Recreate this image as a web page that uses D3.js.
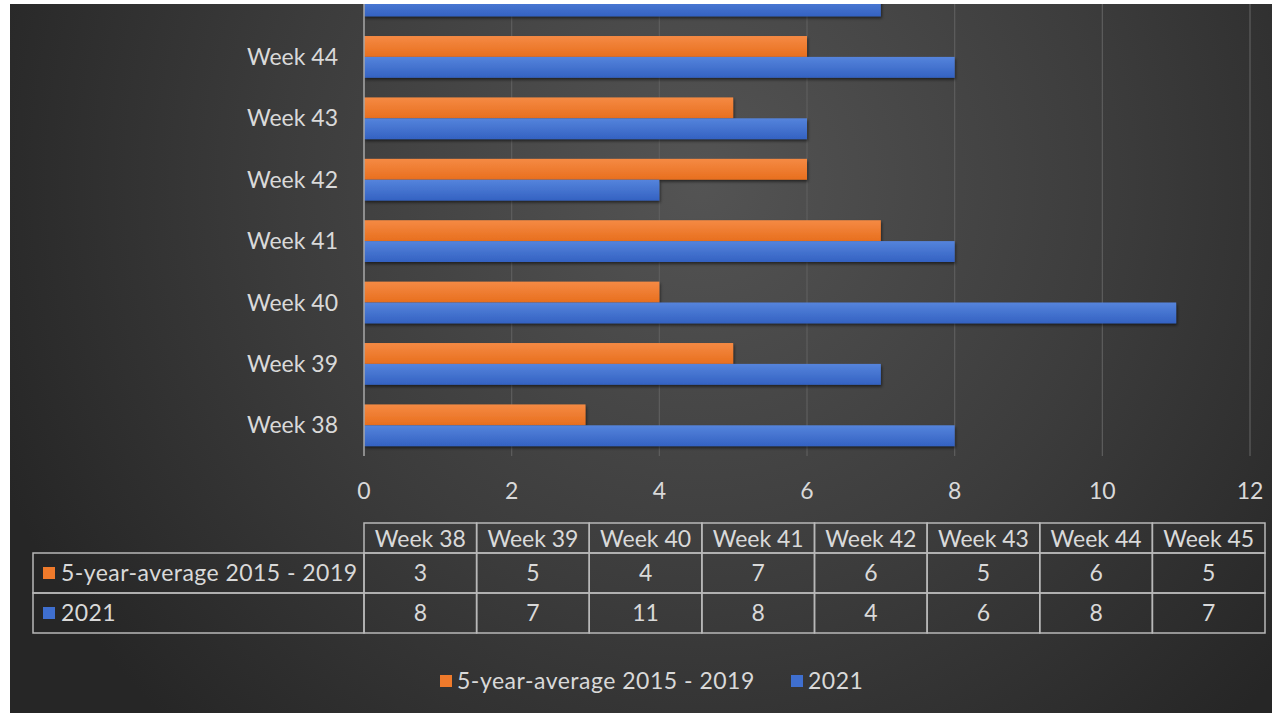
<!DOCTYPE html>
<html>
<head>
<meta charset="utf-8">
<script src="https://cdn.jsdelivr.net/npm/d3@7"></script>
<style>
  html, body { margin: 0; padding: 0; background: #fff; }
  svg { display: block; font-family: Lato, "Open Sans", sans-serif; }
</style>
</head>
<body>
<div id="chart"></div>
<script>
// ----------------------------
// DATA
// ----------------------------
const weeks = ["Week 38", "Week 39", "Week 40", "Week 41", "Week 42", "Week 43", "Week 44", "Week 45"];
const avgValues = [3, 5, 4, 7, 6, 5, 6, 5];
const values2021 = [8, 7, 11, 8, 4, 6, 8, 7];
const seriesNames = ["5-year-average 2015 - 2019", "2021"];
const xTicks = [0, 2, 4, 6, 8, 10, 12];

const seriesColors = ["#ef7a2b", "#3f6fcf"];
const textColor = "#d9d9d9";
const fontSize = "23px";

const width = 1272;
const height = 713;

const svg = d3.select("#chart")
  .append("svg")
  .attr("width", width)
  .attr("height", height);

const defs = svg.append("defs");

// background gradient
const bg = defs.append("radialGradient")
  .attr("id", "bg")
  .attr("gradientUnits", "userSpaceOnUse")
  .attr("cx", 700).attr("cy", 180).attr("r", 760);
bg.append("stop").attr("offset", "0%").attr("stop-color", "#545454");
bg.append("stop").attr("offset", "55%").attr("stop-color", "#3c3c3c");
bg.append("stop").attr("offset", "100%").attr("stop-color", "#262626");

// bar gradients
[["gOrange", "#f58a44", "#e86f1e"], ["gBlue", "#5584dc", "#3462c2"]].forEach(([id, c1, c2]) => {
  const lg = defs.append("linearGradient").attr("id", id)
    .attr("x1", 0).attr("y1", 0).attr("x2", 0).attr("y2", 1);
  lg.append("stop").attr("offset", "0%").attr("stop-color", c1);
  lg.append("stop").attr("offset", "100%").attr("stop-color", c2);
});

const shadow = defs.append("filter").attr("id", "shadow")
  .attr("x", "-5%").attr("y", "-30%").attr("width", "110%").attr("height", "170%");
shadow.append("feDropShadow")
  .attr("dx", 1).attr("dy", 2).attr("stdDeviation", 1.5)
  .attr("flood-color", "#000").attr("flood-opacity", 0.55);

svg.append("rect")
  .attr("x", 10).attr("y", 4)
  .attr("width", width - 10).attr("height", height - 4)
  .attr("fill", "url(#bg)");

// ----------------------------
// SCALES
// ----------------------------
const plotBottom = 456;
const step = 61.4;

const x = d3.scaleLinear()
  .domain([0, 12])
  .range([364, 1250]);

const y = d3.scaleBand()
  .domain(weeks.slice().reverse())
  .range([plotBottom - step * weeks.length, plotBottom])
  .paddingInner(0.32)
  .paddingOuter(0.16);

const ySub = d3.scaleBand()
  .domain([0, 1])
  .range([0, y.bandwidth()]);

const plot = svg.append("g");

// clip so the cut-off top looks like the reference
defs.append("clipPath").attr("id", "clip")
  .append("rect").attr("x", 10).attr("y", 4).attr("width", width).attr("height", height);
plot.attr("clip-path", "url(#clip)");

// ----------------------------
// GRIDLINES
// ----------------------------
plot.selectAll(".grid")
  .data(xTicks.slice(1))
  .join("line")
  .attr("class", "grid")
  .attr("x1", d => x(d)).attr("x2", d => x(d))
  .attr("y1", 0).attr("y2", plotBottom)
  .attr("stroke", "#5e5e5e")
  .attr("stroke-width", 1.2);

// ----------------------------
// BARS
// ----------------------------
const rows = weeks.map((w, i) => ({ week: w, vals: [avgValues[i], values2021[i]] }));

const groups = plot.selectAll(".week")
  .data(rows)
  .join("g")
  .attr("class", "week")
  .attr("transform", d => `translate(0,${y(d.week)})`);

groups.selectAll("rect")
  .data(d => d.vals.map((v, s) => ({ v, s })))
  .join("rect")
  .attr("x", x(0))
  .attr("y", d => ySub(d.s))
  .attr("width", d => x(d.v) - x(0))
  .attr("height", ySub.bandwidth())
  .attr("fill", d => d.s === 0 ? "url(#gOrange)" : "url(#gBlue)")
  .attr("filter", "url(#shadow)");

// vertical axis line
plot.append("line")
  .attr("x1", x(0)).attr("x2", x(0))
  .attr("y1", 0).attr("y2", plotBottom)
  .attr("stroke", "#a8a8a8")
  .attr("stroke-width", 1.5);

// ----------------------------
// CATEGORY LABELS (top one is cut off by the frame)
// ----------------------------
plot.selectAll(".cat")
  .data(weeks.filter(d => y(d) + y.bandwidth() / 2 > 20))
  .join("text")
  .attr("class", "cat")
  .attr("x", 338)
  .attr("y", d => y(d) + y.bandwidth() / 2)
  .attr("dy", "0.35em")
  .attr("text-anchor", "end")
  .attr("fill", textColor)
  .style("font-size", fontSize)
  .text(d => d);

// ----------------------------
// X TICK LABELS
// ----------------------------
svg.selectAll(".xtick")
  .data(xTicks)
  .join("text")
  .attr("class", "xtick")
  .attr("x", d => x(d))
  .attr("y", 491)
  .attr("dy", "0.35em")
  .attr("text-anchor", "middle")
  .attr("fill", textColor)
  .style("font-size", fontSize)
  .text(d => d);

// ----------------------------
// DATA TABLE
// ----------------------------
const table = svg.append("g");
const colX = d3.scaleBand().domain(weeks).range([364, 1265]);
const headTop = 523, rowTop = 553, rowH = 40;
const lineColor = "#b8b8b8";

// header cells
table.selectAll(".hcell")
  .data(weeks)
  .join("rect")
  .attr("x", d => colX(d)).attr("y", headTop)
  .attr("width", colX.bandwidth()).attr("height", rowTop - headTop)
  .attr("fill", "none").attr("stroke", lineColor).attr("stroke-width", 1.5);

table.selectAll(".htext")
  .data(weeks)
  .join("text")
  .attr("x", d => colX(d) + colX.bandwidth() / 2)
  .attr("y", (headTop + rowTop) / 2 + 1)
  .attr("dy", "0.35em")
  .attr("text-anchor", "middle")
  .attr("fill", textColor)
  .style("font-size", fontSize)
  .text(d => d);

const tableRows = [avgValues, values2021];

tableRows.forEach((vals, r) => {
  const top = rowTop + r * rowH;
  // row header cell
  table.append("rect")
    .attr("x", 33).attr("y", top)
    .attr("width", 364 - 33).attr("height", rowH)
    .attr("fill", "none").attr("stroke", lineColor).attr("stroke-width", 1.5);
  table.append("rect")
    .attr("x", 43).attr("y", top + rowH / 2 - 6)
    .attr("width", 12).attr("height", 12)
    .attr("fill", seriesColors[r]);
  table.append("text")
    .attr("x", 61).attr("y", top + rowH / 2)
    .attr("dy", "0.35em")
    .attr("fill", textColor)
    .style("font-size", fontSize)
    .style("letter-spacing", "0.45px")
    .text(seriesNames[r]);

  table.selectAll(".vcell" + r)
    .data(weeks)
    .join("rect")
    .attr("x", d => colX(d)).attr("y", top)
    .attr("width", colX.bandwidth()).attr("height", rowH)
    .attr("fill", "none").attr("stroke", lineColor).attr("stroke-width", 1.5);

  table.selectAll(".vtext" + r)
    .data(vals)
    .join("text")
    .attr("x", (d, i) => colX(weeks[i]) + colX.bandwidth() / 2)
    .attr("y", top + rowH / 2)
    .attr("dy", "0.35em")
    .attr("text-anchor", "middle")
    .attr("fill", textColor)
    .style("font-size", fontSize)
    .text(d => d);
});

// ----------------------------
// LEGEND
// ----------------------------
const legend = svg.append("g").attr("transform", "translate(440,681)");
const legendX = [0, 351];

const items = legend.selectAll(".legend-item")
  .data(seriesNames)
  .join("g")
  .attr("transform", (_, i) => `translate(${legendX[i]},0)`);

items.append("rect")
  .attr("x", 0).attr("y", -6)
  .attr("width", 12).attr("height", 12)
  .attr("fill", (_, i) => seriesColors[i]);

items.append("text")
  .attr("x", 17)
  .attr("dy", "0.35em")
  .attr("fill", textColor)
  .style("font-size", fontSize)
  .style("letter-spacing", "0.5px")
  .text(d => d);
</script>
</body>
</html>
